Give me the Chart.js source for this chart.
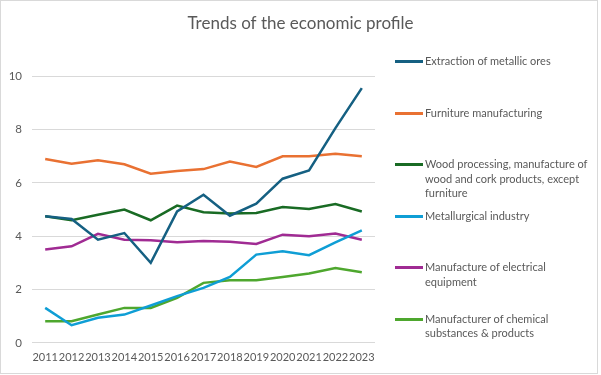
<!DOCTYPE html>
<html>
<head>
<meta charset="utf-8">
<script src="https://cdn.jsdelivr.net/npm/chart.js@4"></script>
<style>
  html, body { margin: 0; padding: 0; background: #fff; }
  #wrap { position: relative; width: 601px; height: 375px; }
  #frame { position: absolute; left: 0; top: 0; width: 596px; height: 372px; border: 1px solid #d9d9d9; box-sizing: content-box; pointer-events: none; }
  #c { position: absolute; left: 0; top: 0; }
  .leg { position: absolute; left: 395px; width: 200px; font-family: Lato, "Open Sans", sans-serif; font-size: 11px; line-height: 14.5px; color: #595959; }
  .leg .sw { position: absolute; left: 0; top: 6px; width: 28px; height: 3px; }
  .leg .tx { margin-left: 30px; width: 164px; }
</style>
</head>
<body>
<div id="wrap">
  <canvas id="c" width="601" height="375"></canvas>
  <div id="legend"></div>
  <div id="frame"></div>
</div>
<script>
const years = ["2011","2012","2013","2014","2015","2016","2017","2018","2019","2020","2021","2022","2023"];
const seriesNames = [
  "Extraction of metallic ores",
  "Furniture manufacturing",
  "Wood processing, manufacture of wood and cork products, except furniture",
  "Metallurgical industry",
  "Manufacture of electrical equipment",
  "Manufacturer of chemical substances & products"
];
const metallicOres   = [4.75, 4.65, 3.87, 4.12, 3.0, 4.93, 5.56, 4.77, 5.22, 6.16, 6.47, 8.06, 9.56];
const furniture      = [6.9, 6.72, 6.85, 6.7, 6.35, 6.45, 6.52, 6.8, 6.6, 7.0, 7.0, 7.1, 7.0];
const woodProcessing = [4.75, 4.6, 4.81, 5.0, 4.6, 5.15, 4.9, 4.85, 4.87, 5.1, 5.02, 5.21, 4.93];
const metallurgical  = [1.31, 0.66, 0.94, 1.06, 1.4, 1.75, 2.06, 2.47, 3.31, 3.44, 3.29, 3.77, 4.22];
const electrical     = [3.5, 3.62, 4.09, 3.87, 3.85, 3.77, 3.82, 3.79, 3.71, 4.06, 4.0, 4.1, 3.87];
const chemical       = [0.81, 0.81, 1.06, 1.31, 1.31, 1.69, 2.25, 2.35, 2.35, 2.47, 2.6, 2.81, 2.65];
const colors = ["#156082", "#E97132", "#196B24", "#0F9ED5", "#A02B93", "#4EA72E"];
const allSeries = [metallicOres, furniture, woodProcessing, metallurgical, electrical, chemical];

const FONT = "Lato, 'Open Sans', sans-serif";
const TEXT = "#595959";

const datasets = allSeries.map((d, i) => ({
  label: seriesNames[i],
  data: d,
  borderColor: colors[i],
  backgroundColor: colors[i],
  borderWidth: 2.5,
  pointRadius: 0,
  pointHoverRadius: 0,
  tension: 0,
  fill: false
}));

new Chart(document.getElementById('c'), {
  type: 'line',
  data: { labels: years, datasets: datasets },
  options: {
    responsive: false,
    animation: false,
    layout: { padding: { left: 0, right: 0, top: 0, bottom: 2 } },
    plugins: {
      legend: { display: false },
      tooltip: { enabled: false },
      title: {
        display: true,
        text: "Trends of the economic profile",
        color: TEXT,
        font: { family: FONT, size: 17, weight: 'normal' },
        padding: { top: 13, bottom: 43 }
      }
    },
    scales: {
      x: {
        offset: true,
        grid: { display: false, drawTicks: false },
        border: { display: false },
        ticks: { color: TEXT, font: { family: FONT, size: 11 }, padding: 8.5, maxRotation: 0, autoSkip: false }
      },
      y: {
        min: 0, max: 10,
        afterFit: (s) => { s.width = 32; },
        grid: { color: "#d9d9d9", drawTicks: false, lineWidth: 1 },
        border: { display: false },
        ticks: { stepSize: 2, color: TEXT, font: { family: FONT, size: 11.5 }, padding: 10 }
      },
      yr: {
        position: 'right',
        min: 0, max: 10,
        afterFit: (s) => { s.width = 226; },
        grid: { display: false, drawTicks: false },
        border: { display: false },
        ticks: { display: false }
      }
    }
  }
});

// HTML legend built from series names/colours
const legend = document.getElementById('legend');
seriesNames.forEach((name, i) => {
  const item = document.createElement('div');
  item.className = 'leg';
  item.style.top = (61.7 + i * 51.5 - 7.5) + 'px';
  const sw = document.createElement('div');
  sw.className = 'sw';
  sw.style.background = colors[i];
  const tx = document.createElement('div');
  tx.className = 'tx';
  tx.textContent = name;
  item.appendChild(sw);
  item.appendChild(tx);
  legend.appendChild(item);
});
</script>
</body>
</html>
